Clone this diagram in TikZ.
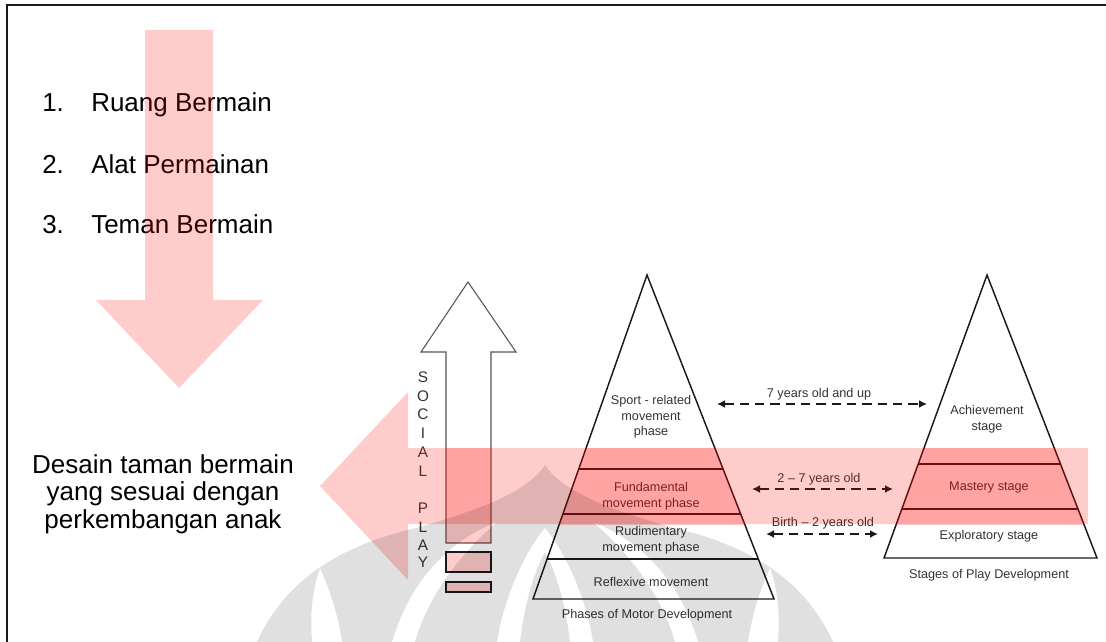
\documentclass[tikz,border=0pt]{standalone}
\usepackage{fontspec}
\setmainfont{Liberation Sans}
\usetikzlibrary{arrows.meta,calc}
\definecolor{playred}{HTML}{FF0000}
\definecolor{playink}{HTML}{333333}
\definecolor{playline}{HTML}{1A1A1A}
\definecolor{playgrey}{HTML}{555555}

\begin{document}
\begin{tikzpicture}[x=0.75pt,y=-0.75pt,
  big/.style={font=\fontsize{19.5}{20.6}\selectfont,text=black,inner sep=0pt},
  lbl/.style={font=\fontsize{9.5}{11.6}\selectfont,text=playink,align=center,inner sep=0pt},
  vlet/.style={font=\fontsize{11.5}{12}\selectfont,text=playink,inner sep=0pt},
  pyr/.style={draw=playline,line width=1.1pt},
  age/.style={{Latex[length=6pt,width=6pt]}-{Latex[length=6pt,width=6pt]},draw=playline,line width=1.7pt,dash pattern=on 7pt off 4.5pt},
  glow/.style={fill=playred,fill opacity=0.2},
  tray/.style={draw=playline,line width=0.8pt,fill=playred,fill opacity=0.2},
  wmark/.style={fill=black,fill opacity=0.12,even odd rule}
]
\useasboundingbox (0,0) rectangle (1106,642);
\draw[line width=1.5pt,draw=playline] (7,642) -- (7,5) -- (1106,5);

% list and goal
\foreach \n/\t/\y in {1/Ruang Bermain/112,2/Alat Permainan/173,3/Teman Bermain/233}{
  \node[big,anchor=base west] (num\n) at (42,\y) {\n.};
  \node[big,anchor=base west] (item\n) at (91,\y) {\t};
}
\node[big,align=center] (goal) at (163,494) {Desain taman bermain\\yang sesuai dengan\\perkembangan anak};

% social play arrow
\draw[draw=playgrey,line width=0.8pt] (491,543) -- (491,352) -- (516,352) -- (468,282) -- (421,352) -- (446,352) -- (446,543) -- cycle;
\draw[tray] (446,552) rectangle (491,572);
\draw[tray] (446,582) rectangle (491,592);
\foreach \c/\y [count=\i] in {S/377,O/396,C/414,I/433,A/452,L/471,P/508,L/527,A/545,Y/562}
  \node[vlet] (soc\i) at (423,\y) {\c};

% motor development
\coordinate (mtop) at (647,275);
\coordinate (mleft) at (533,599);
\coordinate (mright) at (774,599);
\draw[pyr] (mtop) -- (mleft) -- (mright) -- cycle;
\foreach \t in {0.599,0.738,0.877}
  \draw[pyr] ($(mtop)!\t!(mleft)$) -- ($(mtop)!\t!(mright)$);
\node[lbl] (sport) at (651,417) {Sport - related\\movement\\phase};
\node[lbl] (fund) at (651,496) {Fundamental\\movement phase};
\node[lbl] (rudi) at (651,540) {Rudimentary\\movement phase};
\node[lbl] (refl) at (651,582) {Reflexive movement};
\node[lbl] (motor) at (647,615) {Phases of Motor Development};

% play development
\coordinate (stop) at (987,275);
\coordinate (sleft) at (884,558);
\coordinate (sright) at (1097,558);
\draw[pyr] (stop) -- (sleft) -- (sright) -- cycle;
\foreach \t in {0.668,0.827}
  \draw[pyr] ($(stop)!\t!(sleft)$) -- ($(stop)!\t!(sright)$);
\node[lbl] (achv) at (987,419) {Achievement\\stage};
\node[lbl] (mast) at (989,487) {Mastery stage};
\node[lbl] (expl) at (989,536) {Exploratory stage};
\node[lbl] (stages) at (989,575) {Stages of Play Development};

% ages
\coordinate (up7a) at (717,404);
\coordinate (up7b) at (927,404);
\coordinate (mid27a) at (752,489);
\coordinate (mid27b) at (893,489);
\coordinate (bir2a) at (766,534);
\coordinate (bir2b) at (878,534);
\draw[age] (up7a) -- (up7b);
\draw[age] (mid27a) -- (mid27b);
\draw[age] (bir2a) -- (bir2b);
\node[lbl] (lab7) at (819,394) {7 years old and up};
\node[lbl] (lab27) at (819,479) {2 – 7 years old};
\node[lbl] (lab2) at (823,523) {Birth – 2 years old};

% highlights
\fill[glow] (145,30) -- (213,30) -- (213,300) -- (263,300) -- (179,388) -- (96,300) -- (145,300) -- cycle;
\fill[glow] (320,486) -- (408,392) -- (408,448) -- (1088,448) -- (1088,524) -- (408,524) -- (408,580) -- cycle;
\fill[glow] (446,448) rectangle (491,543);
\begin{scope}
  \clip (408,448) rectangle (1088,524);
  \fill[glow] (mtop) -- (mleft) -- (mright) -- cycle;
  \fill[glow] (stop) -- (sleft) -- (sright) -- cycle;
\end{scope}

% watermark
\fill[wmark] (545,465) .. controls (525,495) and (470,512) .. (420,527) .. controls (340,545) and (285,580) .. (257,642)
  -- (833,642) .. controls (805,580) and (750,545) .. (670,527) .. controls (620,512) and (565,495) .. (545,465) -- cycle
  (320,568) .. controls (312,590) and (310,615) .. (312,642) -- (342,642) .. controls (338,615) and (330,590) .. (320,568) -- cycle
  (497,522) .. controls (450,540) and (410,580) .. (392,642) -- (415,642) .. controls (430,590) and (465,550) .. (497,522) -- cycle
  (770,568) .. controls (778,590) and (780,615) .. (778,642) -- (748,642) .. controls (752,615) and (760,590) .. (770,568) -- cycle
  (593,522) .. controls (640,540) and (680,580) .. (698,642) -- (675,642) .. controls (660,590) and (625,550) .. (593,522) -- cycle
  (497,642) .. controls (505,590) and (530,545) .. (545,528) .. controls (560,545) and (585,590) .. (593,642)
  -- (570,642) .. controls (565,600) and (555,570) .. (545,552) .. controls (535,570) and (525,600) .. (520,642) -- cycle;
\end{tikzpicture}
\end{document}
